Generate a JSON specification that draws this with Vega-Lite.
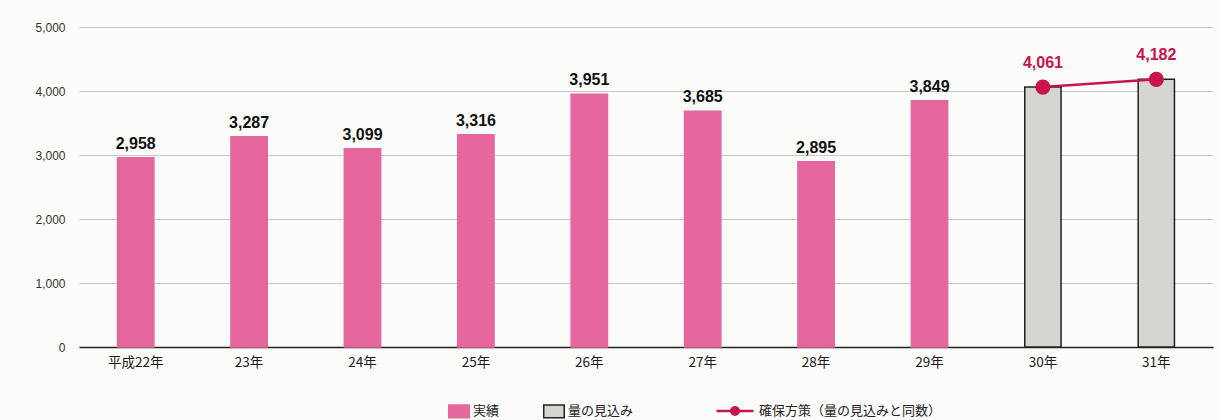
{
  "$schema": "https://vega.github.io/schema/vega-lite/v6.json",
  "autosize": {"type": "none"},
  "padding": {"left": 79, "top": 27, "right": 7, "bottom": 73},
  "width": 1134,
  "height": 320,
  "background": "#fbfbfa",
  "config": {
    "view": {"stroke": null},
    "font": "Liberation Sans"
  },
  "data": {
    "values": [
      {"year": "平成22年", "value": 2958, "type": "実績"},
      {"year": "23年", "value": 3287, "type": "実績"},
      {"year": "24年", "value": 3099, "type": "実績"},
      {"year": "25年", "value": 3316, "type": "実績"},
      {"year": "26年", "value": 3951, "type": "実績"},
      {"year": "27年", "value": 3685, "type": "実績"},
      {"year": "28年", "value": 2895, "type": "実績"},
      {"year": "29年", "value": 3849, "type": "実績"},
      {"year": "30年", "value": 4061, "type": "量の見込み", "series": "確保方策（量の見込みと同数）"},
      {"year": "31年", "value": 4182, "type": "量の見込み", "series": "確保方策（量の見込みと同数）"}
    ]
  },
  "layer": [
    {
      "mark": {"type": "bar", "strokeWidth": 1.5},
      "encoding": {
        "x": {
          "field": "year", "type": "nominal", "sort": null,
          "scale": {"paddingInner": 0.68, "paddingOuter": 0.34},
          "axis": {
            "title": null, "labelAngle": 0, "ticks": false, "domainColor": "#222", "domainWidth": 1.5,
            "labelFont": "Noto Sans CJK JP", "labelFontSize": 13.5, "labelColor": "#1a1a1a", "labelPadding": 8
          }
        },
        "y": {
          "field": "value", "type": "quantitative",
          "scale": {"domain": [0, 5000]},
          "axis": {
            "title": null, "values": [0, 1000, 2000, 3000, 4000, 5000], "format": ",d",
            "domain": false, "ticks": false, "labelFontSize": 12, "labelColor": "#333", "labelPadding": 14,
            "gridColor": "#c8c8c8", "gridWidth": 1.2
          }
        },
        "fill": {
          "field": "type", "type": "nominal", "title": null,
          "scale": {"domain": ["実績", "量の見込み"], "range": ["#e5679d", "#d6d6d0"]},
          "legend": {
            "orient": "none", "legendX": 369, "legendY": 373, "direction": "horizontal",
            "symbolType": "M-1,-0.62H1V0.62H-1Z", "symbolSize": 420, "symbolStrokeWidth": 1.5,
            "labelFont": "Noto Sans CJK JP", "labelFontSize": 13, "labelColor": "#222",
            "columnPadding": 40, "labelOffset": 3,
            "encode": {
              "symbols": {
                "update": {
                  "stroke": {"signal": "datum.value === '実績' ? '#e5679d' : '#222222'"}
                }
              }
            }
          }
        },
        "stroke": {
          "field": "type", "type": "nominal", "title": null, "legend": null,
          "scale": {"domain": ["実績", "量の見込み"], "range": ["#e5679d", "#222222"]}
        }
      }
    },
    {
      "transform": [{"filter": "datum.type === '実績'"}],
      "mark": {"type": "text", "dy": -14, "fontSize": 16, "fontWeight": "bold", "color": "#111"},
      "encoding": {
        "x": {"field": "year", "type": "nominal", "sort": null},
        "y": {"field": "value", "type": "quantitative"},
        "text": {"field": "value", "type": "quantitative", "format": ","}
      }
    },
    {
      "transform": [{"filter": "datum.type === '量の見込み'"}],
      "mark": {"type": "line", "strokeWidth": 2.5},
      "encoding": {
        "x": {"field": "year", "type": "nominal", "sort": null},
        "y": {"field": "value", "type": "quantitative"},
        "stroke": {
          "field": "series", "type": "nominal", "title": null,
          "scale": {"range": ["#c8144a"]},
          "legend": {
            "orient": "none", "legendX": 636, "legendY": 364, "labelLimit": 400,
            "symbolType": "M-1,0L1,0M0.2,0A0.2,0.2 0 1,1 -0.2,0A0.2,0.2 0 1,1 0.2,0",
            "symbolSize": 1370, "symbolStrokeWidth": 2.5, "symbolFillColor": "#c8144a",
            "labelFont": "Noto Sans CJK JP", "labelFontSize": 13, "labelColor": "#222", "labelOffset": 4
          }
        }
      }
    },
    {
      "transform": [{"filter": "datum.type === '量の見込み'"}],
      "mark": {"type": "point", "filled": true, "size": 230, "color": "#c8144a", "opacity": 1},
      "encoding": {
        "x": {"field": "year", "type": "nominal", "sort": null},
        "y": {"field": "value", "type": "quantitative"}
      }
    },
    {
      "transform": [{"filter": "datum.type === '量の見込み'"}],
      "mark": {"type": "text", "dy": -24, "fontSize": 16, "fontWeight": "bold", "color": "#c8144a"},
      "encoding": {
        "x": {"field": "year", "type": "nominal", "sort": null},
        "y": {"field": "value", "type": "quantitative"},
        "text": {"field": "value", "type": "quantitative", "format": ","}
      }
    }
  ],
  "resolve": {"scale": {"stroke": "independent"}, "legend": {"stroke": "independent"}}
}
